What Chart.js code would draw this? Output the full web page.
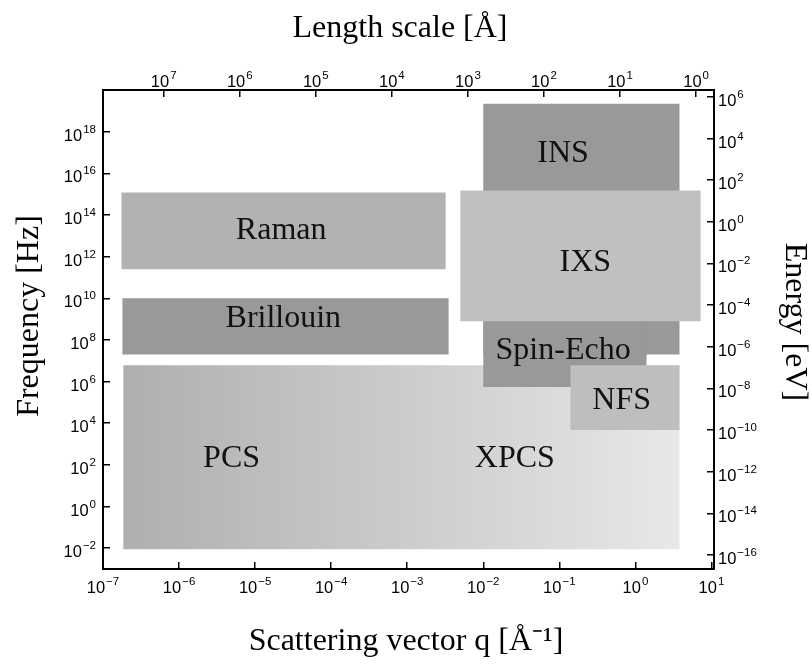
<!DOCTYPE html>
<html>
<head>
<meta charset="utf-8">
<script src="https://cdn.jsdelivr.net/npm/chart.js@4.4.1/dist/chart.umd.min.js"></script>
<style>
  html, body { margin: 0; padding: 0; background: #fff; }
  canvas { display: block; }
</style>
</head>
<body>
<canvas id="techMap" width="812" height="664"></canvas>
<script>
// technique regions: scattering vector q [1/A] and frequency [Hz] ranges
const regions = ['NFS', 'IXS', 'Spin-Echo', 'INS', 'Raman', 'Brillouin', 'PCS / XPCS'];
const qMin = [0.14, 5.0e-3, 1.0e-2, 1.0e-2, 1.75e-7, 1.8e-7, 1.85e-7];
const qMax = [3.8, 7.2, 1.4, 3.8, 3.2e-3, 3.5e-3, 3.8];
const fMin = [4.7e3, 7.8e8, 5.5e5, 2.0e7, 2.5e11, 2.0e7, 9.0e-3];
const fMax = [6.0e6, 1.5e15, 1.0e9, 2.2e19, 1.2e15, 1.0e10, 6.0e6];
const regionColors = ['#bebebe', '#c0c0c0', '#999999', '#999999', '#b2b2b2', '#999999', 'gradient'];

// text labels placed inside the regions (q, f)
const labelTexts = ['Raman', 'Brillouin', 'INS', 'IXS', 'Spin-Echo', 'NFS', 'PCS', 'XPCS'];
const labelQ = [2.2e-5, 2.35e-5, 0.112, 0.22, 0.112, 0.66, 4.9e-6, 0.026];
const labelF = [1.8e13, 1.0e9, 9e16, 5.2e11, 3.2e7, 1.26e5, 210, 210];

// tick values of the four axes
const qTicks = [1e-7, 1e-6, 1e-5, 1e-4, 1e-3, 1e-2, 1e-1, 1e0, 1e1];
const lengthTicks = [1e7, 1e6, 1e5, 1e4, 1e3, 1e2, 1e1, 1e0];
const freqTicks = [1e-2, 1e0, 1e2, 1e4, 1e6, 1e8, 1e10, 1e12, 1e14, 1e16, 1e18];
const energyTicks = [1e-16, 1e-14, 1e-12, 1e-10, 1e-8, 1e-6, 1e-4, 1e-2, 1e0, 1e2, 1e4, 1e6];

const Q_MIN = 1e-7, Q_MAX = 10.8;
const F_MIN = 1e-3, F_MAX = 1e20;
const E_SHIFT = Math.pow(10, -13.67); // energy axis offset used in the figure

const SANS = "'Liberation Sans', Arial, Helvetica, sans-serif";
const SERIF = "'Liberation Serif', 'Times New Roman', serif";
const frame = { display: true, color: '#000', width: 2 };
const inTicks = { drawOnChartArea: false, drawTicks: true, tickLength: -7, color: '#000', lineWidth: 1.5 };

function boxPath(i) {
  return [
    { x: qMin[i], y: fMin[i] }, { x: qMax[i], y: fMin[i] },
    { x: qMax[i], y: fMax[i] }, { x: qMin[i], y: fMax[i] }, { x: qMin[i], y: fMin[i] }
  ];
}

function fillFor(i) {
  if (regionColors[i] !== 'gradient') return regionColors[i];
  return ctx => {
    const chart = ctx.chart;
    if (!chart.chartArea) return '#c8c8c8';
    const x0 = chart.scales.x.getPixelForValue(qMin[i]);
    const x1 = chart.scales.x.getPixelForValue(qMax[i]);
    const g = chart.ctx.createLinearGradient(x0, 0, x1, 0);
    g.addColorStop(0, '#afafaf');
    g.addColorStop(1, '#e8e8e8');
    return g;
  };
}

const regionLabels = {
  id: 'regionLabels',
  afterDatasetsDraw(chart) {
    const { ctx, scales: { x, y } } = chart;
    ctx.save();
    ctx.font = '32px ' + SERIF;
    ctx.fillStyle = '#111';
    ctx.textAlign = 'center';
    ctx.textBaseline = 'middle';
    labelTexts.forEach((t, i) => {
      ctx.fillText(t, x.getPixelForValue(labelQ[i]), y.getPixelForValue(labelF[i]));
    });
    ctx.restore();
  }
};

// "10" with a raised exponent, as in the original tick labels
function drawPower(ctx, v, px, py, align) {
  const exp = String(Math.round(Math.log10(v))).replace('-', '\u2212');
  ctx.font = '16.5px ' + SANS;
  const wb = ctx.measureText('10').width;
  ctx.font = '11.5px ' + SANS;
  const we = ctx.measureText(exp).width;
  const total = wb + 1 + we;
  const left = align === 'center' ? px - total / 2 : align === 'right' ? px - total : px;
  ctx.font = '16.5px ' + SANS;
  ctx.fillText('10', left, py);
  ctx.font = '11.5px ' + SANS;
  ctx.fillText(exp, left + wb + 1, py - 8);
}

const axisText = {
  id: 'axisText',
  afterDraw(chart) {
    const { ctx, chartArea: a, scales: { x, x2, y, y2 } } = chart;
    ctx.save();
    ctx.fillStyle = '#000';
    ctx.textAlign = 'left';
    ctx.textBaseline = 'alphabetic';
    qTicks.forEach(v => drawPower(ctx, v, x.getPixelForValue(v), a.bottom + 24, 'center'));
    lengthTicks.forEach(v => drawPower(ctx, v, x2.getPixelForValue(v), a.top - 3, 'center'));
    freqTicks.forEach(v => drawPower(ctx, v, a.left - 7, y.getPixelForValue(v) + 9, 'right'));
    energyTicks.forEach(v => drawPower(ctx, v, a.right + 4, y2.getPixelForValue(v) + 9, 'left'));

    ctx.font = '32px ' + SERIF;
    ctx.textAlign = 'center';
    ctx.fillText('Length scale [\u00C5]', 400, 37);
    ctx.fillText('Scattering vector q [\u00C5\u207B\u00B9]', 406, 650);
    ctx.save();
    ctx.translate(38, 316);
    ctx.rotate(-Math.PI / 2);
    ctx.fillText('Frequency [Hz]', 0, 0);
    ctx.restore();
    ctx.translate(786, 322);
    ctx.rotate(Math.PI / 2);
    ctx.fillText('Energy [eV]', 0, 0);
    ctx.restore();
  }
};

new Chart(document.getElementById('techMap'), {
  type: 'line',
  data: {
    datasets: regions.map((name, i) => ({
      label: name,
      data: boxPath(i),
      fill: 'shape',
      backgroundColor: fillFor(i),
      borderColor: 'rgba(0,0,0,0)',
      borderWidth: 0,
      pointRadius: 0,
      tension: 0
    }))
  },
  options: {
    responsive: false,
    animation: false,
    layout: { padding: 0 },
    plugins: { legend: { display: false }, tooltip: { enabled: false } },
    scales: {
      x: {
        type: 'logarithmic', position: 'bottom', min: Q_MIN, max: Q_MAX,
        afterBuildTicks: s => { s.ticks = qTicks.map(v => ({ value: v })); },
        afterFit: s => { s.height = 95; },
        ticks: { display: false },
        grid: inTicks, border: frame
      },
      x2: {
        type: 'logarithmic', position: 'top', reverse: true,
        min: 2 * Math.PI / Q_MAX, max: 2 * Math.PI / Q_MIN,
        afterBuildTicks: s => { s.ticks = lengthTicks.map(v => ({ value: v })); },
        afterFit: s => { s.height = 90; },
        ticks: { display: false },
        grid: inTicks, border: frame
      },
      y: {
        type: 'logarithmic', position: 'left', min: F_MIN, max: F_MAX,
        afterBuildTicks: s => { s.ticks = freqTicks.map(v => ({ value: v })); },
        afterFit: s => { s.width = 103; },
        ticks: { display: false },
        grid: inTicks, border: frame
      },
      y2: {
        type: 'logarithmic', position: 'right', min: F_MIN * E_SHIFT, max: F_MAX * E_SHIFT,
        afterBuildTicks: s => { s.ticks = energyTicks.map(v => ({ value: v })); },
        afterFit: s => { s.width = 98; },
        ticks: { display: false },
        grid: inTicks, border: frame
      }
    }
  },
  plugins: [regionLabels, axisText]
});
</script>
</body>
</html>
